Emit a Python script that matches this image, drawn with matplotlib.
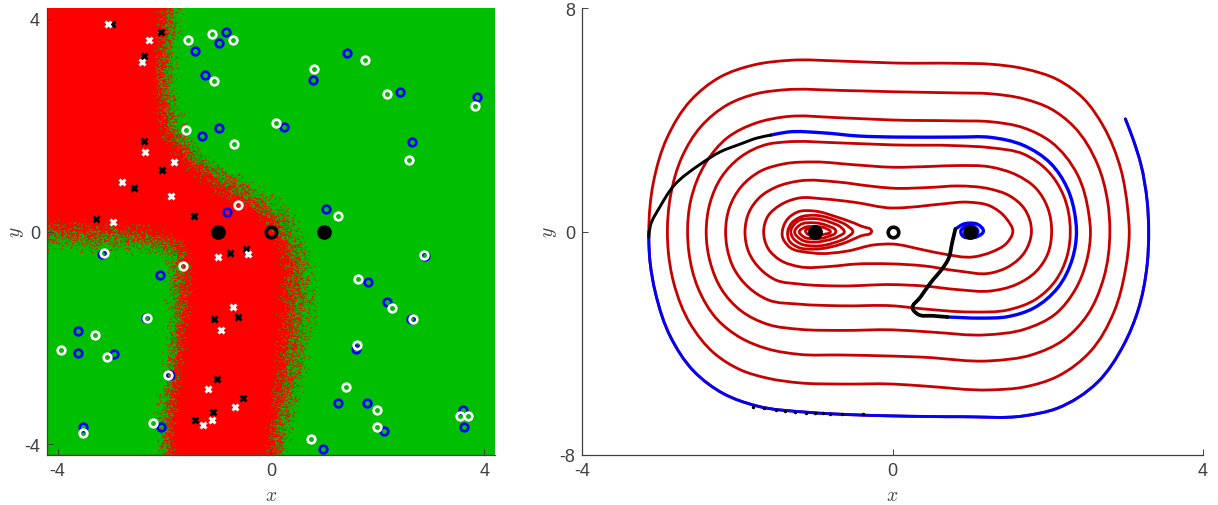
import numpy as np
import matplotlib
matplotlib.use('Agg')
import matplotlib.pyplot as plt
from matplotlib.path import Path
from matplotlib.patches import PathPatch

plt.rcParams['font.family'] = ['Liberation Sans', 'DejaVu Sans']
plt.rcParams['mathtext.fontset'] = 'cm'

# left panel: markers
white_x = [(-3.06, 3.90), (-2.29, 3.60), (-2.42, 3.19), (-2.37, 1.50), (-1.81, 1.30), (-2.79, 0.93),
           (-1.88, 0.67), (-2.96, 0.17), (-0.99, -0.48), (-0.43, -0.42), (-0.72, -1.42), (-0.94, -1.86),
           (-1.19, -2.96), (-0.67, -3.29), (-1.11, -3.55), (-1.27, -3.63)]
black_x = [(-2.98, 3.89), (-2.07, 3.74), (-2.39, 3.30), (-2.38, 1.71), (-2.05, 1.15), (-2.56, 0.81),
           (-3.29, 0.24), (-1.45, 0.30), (-0.76, -0.40), (-0.46, -0.33), (-1.06, -1.64), (-0.61, -1.60),
           (-1.02, -2.77), (-0.53, -3.13), (-1.08, -3.40), (-1.42, -3.55)]
blue_o = [(-0.85, 3.74), (-0.98, 3.55), (-1.42, 3.39), (-1.23, 2.95), (-0.98, 1.94), (-1.30, 1.79),
          (-0.83, 0.36), (-3.17, -0.42), (-2.09, -0.81), (-2.34, -1.62), (-3.61, -1.87), (-3.61, -2.28),
          (-2.94, -2.31), (-1.89, -2.69), (-3.52, -3.67), (-2.07, -3.67), (1.43, 3.36), (0.79, 2.84),
          (2.42, 2.63), (3.86, 2.53), (0.24, 1.97), (2.64, 1.69), (1.03, 0.43), (2.89, -0.46),
          (1.81, -0.95), (2.17, -1.32), (2.63, -1.64), (1.59, -2.20), (1.25, -3.22), (1.80, -3.22),
          (3.60, -3.35), (2.11, -3.75), (3.61, -3.67), (0.98, -4.09)]
white_o = [(-1.55, 3.59), (-1.10, 3.72), (-0.72, 3.60), (-1.06, 2.82), (-1.59, 1.90), (-0.69, 1.65),
           (-0.62, 0.49), (-3.13, -0.40), (-1.65, -0.64), (-2.33, -1.62), (-3.30, -1.94), (-3.93, -2.22),
           (-3.08, -2.35), (-1.94, -2.70), (-3.53, -3.79), (-2.21, -3.60), (1.76, 3.23), (0.80, 3.05),
           (2.17, 2.59), (3.83, 2.35), (0.09, 2.03), (2.58, 1.35), (1.26, 0.30), (2.86, -0.45),
           (1.64, -0.90), (2.26, -1.44), (2.66, -1.64), (1.61, -2.14), (1.40, -2.93), (1.99, -3.35),
           (1.98, -3.68), (3.54, -3.47), (3.70, -3.47), (0.75, -3.89)]
stable_pts = [(-1, 0), (1, 0)]
saddle_pt = [(0, 0)]

# class boundary, mixed band edges per row
right_y = [-4.3, -4.03, -2.45, -1.2, -0.5, 0, 0.25, 0.62, 1.0, 1.38, 1.88, 2.8, 4.3]
right_red = [-0.25, -0.2, 0, 0.06, 0.1, -0.1, -0.3, -1.1, -1.56, -1.88, -2.2, -2.3, -2.17]
right_green = [0.42, 0.45, 0.8, 1.0, 0.9, 0.62, 0.6, 0.3, -0.24, -1.0, -1.5, -1.73, -1.57]
left_y = [-4.3, -3.08, -1.82, -0.9, -0.4, 0.4]
left_green = [-2.2, -2.2, -2.03, -2.07, -2.1, -2.1]
left_red = [-1.75, -1.63, -1.5, -1.37, -1.4, -1.4]
top_x = [-4.3, -2.5, -1.8, -1.4]
top_green = [-0.45, -0.5, -0.6, -0.7]
top_red = [0.3, 0.25, 0, -0.2]

# right panel: the red spiral, half turn by half turn
turn_0 = [(3.0, 4.03), (3.1, 3.3), (3.2, 2.4), (3.28, 1.1), (3.3, 0)]
turn_1 = [(3.28, -1.2), (3.16, -2.85), (2.98, -4.05), (2.64, -5.4), (2.12, -6.33), (1.69, -6.6), (0.9, -6.63),
          (0, -6.6), (-0.6, -6.55), (-1.1, -6.47), (-1.74, -6.25), (-2.18, -5.8), (-2.56, -5.0), (-2.86, -3.77),
          (-3.05, -2.24), (-3.13, -0.9), (-3.14, 0)]
turn_2 = [(-3.08, 1.76), (-2.9, 3.38), (-2.6, 4.69), (-2.22, 5.53), (-1.79, 5.96), (-1.31, 6.13), (-0.67, 6.1),
          (0.04, 6.03), (0.84, 6.02), (1.26, 5.99), (1.69, 5.83), (2.13, 5.43), (2.46, 4.76), (2.72, 3.75),
          (2.94, 2.24), (3.03, 0.8), (3.05, 0)]
turn_3 = [(3.0, -1.38), (2.85, -2.9), (2.55, -4.29), (2.13, -5.18), (1.69, -5.57), (1.26, -5.67), (0.4, -5.53),
          (0, -5.46), (-0.67, -5.46), (-1.19, -5.42), (-1.61, -5.25), (-1.96, -4.95), (-2.3, -4.35), (-2.6, -3.33),
          (-2.82, -1.82), (-2.89, -0.67), (-2.9, 0)]
turn_4 = [(-2.86, 1.27), (-2.71, 2.68), (-2.47, 3.75), (-2.13, 4.53), (-1.74, 4.94), (-1.4, 5.07), (-0.67, 5.05),
          (0.04, 5.0), (0.84, 4.96), (1.26, 4.93), (1.69, 4.75), (2.04, 4.39), (2.33, 3.77), (2.64, 2.41),
          (2.77, 1.1), (2.8, 0)]
turn_5 = [(2.72, -1.67), (2.51, -2.99), (2.2, -3.89), (1.8, -4.41), (1.26, -4.63), (0.4, -4.5), (0, -4.46),
          (-0.67, -4.42), (-1.19, -4.4), (-1.61, -4.2), (-1.96, -3.8), (-2.26, -3.14), (-2.51, -1.99),
          (-2.62, -0.8), (-2.64, 0)]
turn_6 = [(-2.6, 1.1), (-2.4, 2.48), (-2.13, 3.35), (-1.74, 3.9), (-1.4, 4.1), (-0.67, 4.07), (0, 3.99),
          (0.84, 3.96), (1.26, 3.93), (1.69, 3.71), (2.04, 3.21), (2.38, 2.05), (2.53, 0.6), (2.55, 0)]
turn_7 = [(2.5, -1.06), (2.35, -2.1), (2.1, -2.95), (1.7, -3.5), (1.2, -3.7), (0.5, -3.6), (0, -3.52),
          (-0.67, -3.54), (-1.2, -3.5), (-1.6, -3.33), (-1.96, -2.82), (-2.2, -2.08), (-2.35, -1.08), (-2.4, 0)]
turn_8 = [(-2.35, 1.03), (-2.2, 1.96), (-1.96, 2.66), (-1.6, 3.13), (-1.4, 3.2), (-0.67, 3.17), (0, 3.1),
          (0.84, 3.07), (1.26, 3.0), (1.69, 2.77), (2.0, 2.17), (2.2, 1.31), (2.29, 0)]
turn_9 = [(2.25, -0.87), (2.1, -1.76), (1.85, -2.42), (1.5, -2.8), (1.0, -2.88), (0.4, -2.77), (0, -2.66),
          (-0.67, -2.66), (-1.2, -2.6), (-1.6, -2.45), (-1.85, -2.01), (-2.05, -1.29), (-2.13, -0.6), (-2.15, 0)]
turn_10 = [(-2.1, 0.86), (-1.95, 1.6), (-1.7, 2.16), (-1.4, 2.42), (-1.0, 2.49), (-0.5, 2.39), (0, 2.3),
           (0.5, 2.33), (0.84, 2.36), (1.26, 2.31), (1.6, 2.02), (1.85, 1.54), (2.0, 0.84), (2.05, 0)]
turn_11 = [(2.0, -0.8), (1.85, -1.43), (1.6, -1.89), (1.26, -2.13), (0.84, -2.08), (0.4, -1.95), (0, -1.9),
           (-0.67, -1.95), (-1.2, -1.88), (-1.5, -1.74), (-1.7, -1.35), (-1.85, -0.75), (-1.9, 0)]
turn_12 = [(-1.85, 0.68), (-1.7, 1.25), (-1.5, 1.59), (-1.2, 1.81), (-0.7, 1.77), (-0.3, 1.63), (0, 1.55),
           (0.5, 1.58), (0.84, 1.63), (1.26, 1.52), (1.5, 1.29), (1.7, 0.81), (1.79, 0)]
turn_13 = [(1.7, -0.75), (1.5, -1.25), (1.26, -1.49), (0.84, -1.41), (0.4, -1.23), (0, -1.16), (-0.5, -1.17),
           (-0.8, -1.25), (-1.2, -1.26), (-1.45, -1.02), (-1.6, -0.62), (-1.66, 0)]
turn_14 = [(-1.6, 0.57), (-1.45, 0.94), (-1.2, 1.2), (-0.9, 1.17), (-0.5, 1.05), (0, 0.84), (0.23, 0.87),
           (0.62, 0.98), (0.97, 1.05), (1.26, 0.91), (1.47, 0.45), (1.55, 0)]
turn_15 = [(1.47, -0.42), (1.28, -0.73), (1.04, -0.91), (0.65, -0.8), (0.4, -0.66), (0, -0.45), (-0.24, -0.48),
           (-0.58, -0.7), (-1.02, -0.77), (-1.35, -0.5), (-1.42, -0.16), (-1.42, 0)]
lobe_turns = [(-1.35, 0.45), (-1.22, 0.7), (-1.0, 0.73), (-0.72, 0.52), (-0.41, 0.2), (-0.27, 0),
              (-0.41, -0.16), (-0.66, -0.45), (-1.0, -0.63), (-1.22, -0.56), (-1.33, -0.33), (-1.35, 0),
              (-1.3, 0.3), (-1.2, 0.5), (-1.0, 0.58), (-0.75, 0.42), (-0.57, 0.18), (-0.51, 0),
              (-0.57, -0.18), (-0.75, -0.4), (-1.0, -0.52), (-1.2, -0.42), (-1.29, -0.2), (-1.31, 0),
              (-1.25, 0.3), (-1.0, 0.46), (-0.8, 0.33), (-0.66, 0.14), (-0.62, 0),
              (-0.7, -0.18), (-0.85, -0.32), (-1.0, -0.38), (-1.17, -0.3), (-1.26, 0),
              (-1.2, 0.22), (-1.0, 0.31), (-0.85, 0.22), (-0.73, 0), (-0.85, -0.2), (-1.0, -0.26),
              (-1.15, -0.18), (-1.2, 0), (-1.15, 0.12), (-1.0, 0.18), (-0.85, 0.1), (-0.8, 0),
              (-0.88, -0.1), (-1.0, -0.14), (-1.1, -0.08), (-1.12, 0), (-1.0, 0.08), (-0.92, 0), (-1.0, -0.04)]

# blue and black trajectory
black_a = [(-3.14, -0.2), (-3.12, 0.2), (-2.99, 0.91), (-2.82, 1.63), (-2.47, 2.42), (-2.22, 2.85), (-1.96, 3.13),
           (-1.74, 3.35), (-1.57, 3.45)]
blue_b = [(-1.57, 3.45), (-1.35, 3.56), (-0.89, 3.53), (-0.45, 3.42), (0.04, 3.38), (0.84, 3.38), (1.26, 3.37),
          (1.69, 3.08), (2.04, 2.43), (2.25, 1.56), (2.36, 0.4), (2.37, 0), (2.32, -0.95), (2.13, -2.01),
          (1.82, -2.74), (1.48, -3.05), (1.13, -3.1), (0.71, -3.06)]
black_b = [(0.71, -3.06), (0.53, -3.02), (0.32, -2.95), (0.26, -2.77), (0.36, -2.35), (0.53, -1.7), (0.62, -1.41),
           (0.72, -0.98), (0.77, -0.38), (0.81, 0.09)]
blue_c = [(0.81, 0.09), (0.92, 0.27), (1.0, 0.3), (1.1, 0.25), (1.17, 0), (1.1, -0.17), (1.0, -0.23), (0.9, -0.15),
          (0.88, 0), (0.95, 0.18), (1.05, 0.17), (1.1, 0), (1.0, -0.1)]
black_bits_x = [-1.8, -1.65, -1.5, -1.38, -1.25, -1.12, -1.0, -0.9, -0.8, -0.65, -0.38]
black_bits_y = [-6.27, -6.33, -6.39, -6.43, -6.47, -6.49, -6.5, -6.51, -6.52, -6.53, -6.55]

xticks_left = [-4, 0, 4]
yticks_left = [-4, 0, 4]
xticks_right = [-4, 0, 4]
yticks_right = [-8, 0, 8]
red = (1, 0, 0)
green = (0, 190 / 255, 0)
dark_red = '#c80000'
ink = '#404040'


def ramp(v, a, b):
    t = np.clip((v - a) / (b - a), 0, 1)
    return t * t * (3 - 2 * t)


def smooth_path(pts, sx=2.78):
    # bezier through the read points, no new data points
    p = np.array(pts, dtype=float)
    s = p * [sx, 1]
    seg = np.diff(s, axis=0)
    d = np.linalg.norm(seg, axis=1)
    u = seg / d[:, None]
    t = np.zeros_like(s)
    t[0] = u[0]
    t[-1] = u[-1]
    # nearer neighbour counts more in the tangent
    t[1:-1] = (u[:-1] * d[1:, None] + u[1:] * d[:-1, None])
    t = t / np.maximum(np.linalg.norm(t, axis=1, keepdims=True), 1e-9)
    verts = [p[0]]
    codes = [Path.MOVETO]
    for i in range(len(p) - 1):
        c1 = (s[i] + t[i] * d[i] / 3) / [sx, 1]
        c2 = (s[i + 1] - t[i + 1] * d[i] / 3) / [sx, 1]
        verts += [c1, c2, p[i + 1]]
        codes += [Path.CURVE4] * 3
    return Path(np.array(verts), codes)


def curve(ax, pts, color, lw, z):
    ax.add_patch(PathPatch(smooth_path(pts), fc='none', ec=color, lw=lw, zorder=z, capstyle='round'))


def style(ax, xt, yt, ylab_x):
    ax.spines['top'].set_visible(False)
    ax.spines['right'].set_visible(False)
    for s in ['left', 'bottom']:
        ax.spines[s].set_color(ink)
        ax.spines[s].set_linewidth(0.9)
    ax.set_xticks(xt)
    ax.set_yticks(yt)
    ax.set_xticklabels([str(v) for v in xt])
    ax.set_yticklabels([str(v) for v in yt])
    ax.tick_params(direction='in', length=4.5, width=0.7, color=ink, labelcolor=ink, labelsize=13, pad=5)
    ax.set_xlabel('$x$', fontsize=14, color=ink)
    ax.set_ylabel('$y$', fontsize=14, color=ink)
    ax.xaxis.set_label_coords(0.5, -0.072)
    ax.yaxis.set_label_coords(ylab_x, 0.5)


fig = plt.figure(figsize=(12.18, 5.06), dpi=100)
W, H = 1218, 506
ax1 = fig.add_axes([47 / W, (H - 456) / H, 448 / W, 447 / H])
ax2 = fig.add_axes([582 / W, (H - 456) / H, 621 / W, 447 / H])

# left: speckled decision map. The speckle itself cannot be read cell by cell,
# so the mixed band is dithered from the edges above with a fixed hash
nx, ny = 448, 447
gx = -4.2 + (np.arange(nx) + 0.5) * 8.4 / nx
gy = -4.2 + (np.arange(ny) + 0.5) * 8.4 / ny
X, Y = np.meshgrid(gx, gy)
r0 = np.interp(gy, right_y, right_red)[:, None]
r1 = np.interp(gy, right_y, right_green)[:, None]
g_right = ramp(X, r0, r1)
l0 = np.interp(gy, left_y, left_green)[:, None]
l1 = np.interp(gy, left_y, left_red)[:, None]
t0 = np.interp(gx, top_x, top_green)[None, :]
t1 = np.interp(gx, top_x, top_red)[None, :]
g_left = (1 - ramp(X, l0, l1)) * (1 - ramp(Y, t0, t1))
p_green = np.maximum(g_right, g_left)
I, J = np.meshgrid(np.arange(nx), np.arange(ny))
dither = (np.sin(I * 12.9898 + J * 78.233) * 43758.5453) % 1
mask = (p_green > dither).astype(float)
# image was scaled down once: neighbouring cells bleed into each other
mask = 0.6 * mask + 0.25 * np.roll(mask, 1, axis=1) + 0.15 * np.roll(mask, 1, axis=0)
rgb = mask[..., None] * np.array(green) + (1 - mask[..., None]) * np.array(red)
ax1.imshow(rgb, origin='lower', extent=[-4.2, 4.2, -4.2, 4.2], interpolation='nearest', aspect='auto', zorder=0)

for pts, c in [(black_x, 'k'), (white_x, 'w')]:
    a = np.array(pts)
    ax1.plot(a[:, 0], a[:, 1], 'x', color=c, ms=4.2, mew=2.1, zorder=3)
for pts, c in [(blue_o, '#0000ff'), (white_o, 'w')]:
    a = np.array(pts)
    ax1.plot(a[:, 0], a[:, 1], 'o', mfc='none', mec=c, ms=5.5, mew=1.9, zorder=4)
a = np.array(stable_pts)
ax1.plot(a[:, 0], a[:, 1], 'o', color='k', ms=10.6, mew=0, zorder=5)
a = np.array(saddle_pt)
ax1.plot(a[:, 0], a[:, 1], 'o', mfc='none', mec='k', ms=7.6, mew=2.6, zorder=5)
ax1.set_xlim(-4.2, 4.2)
ax1.set_ylim(-4.2, 4.2)
style(ax1, xticks_left, yticks_left, -0.047)

# right: phase portrait
red_turns = [turn_0, turn_1, turn_2, turn_3, turn_4, turn_5, turn_6, turn_7, turn_8, turn_9, turn_10,
             turn_11, turn_12, turn_13, turn_14, turn_15, lobe_turns]
spiral = [p for t in red_turns for p in t]
curve(ax2, spiral, dark_red, 2.0, 2)
curve(ax2, turn_0 + turn_1, '#0000ff', 2.1, 3)
curve(ax2, black_a, 'k', 2.1, 4)
curve(ax2, blue_b, '#0000ff', 2.4, 3)
curve(ax2, black_b, 'k', 2.7, 4)
curve(ax2, blue_c, '#0000ff', 2.4, 3)
ax2.plot(black_bits_x, black_bits_y, '.', color='k', ms=3, zorder=4)
a = np.array(stable_pts)
ax2.plot(a[:, 0], a[:, 1], 'o', color='k', ms=10.6, mew=0, zorder=5)
a = np.array(saddle_pt)
ax2.plot(a[:, 0], a[:, 1], 'o', mfc='none', mec='k', ms=7.6, mew=2.6, zorder=5)
ax2.set_xlim(-4, 4)
ax2.set_ylim(-8, 8)
style(ax2, xticks_right, yticks_right, -0.037)

fig.savefig('out.png', dpi=100)
